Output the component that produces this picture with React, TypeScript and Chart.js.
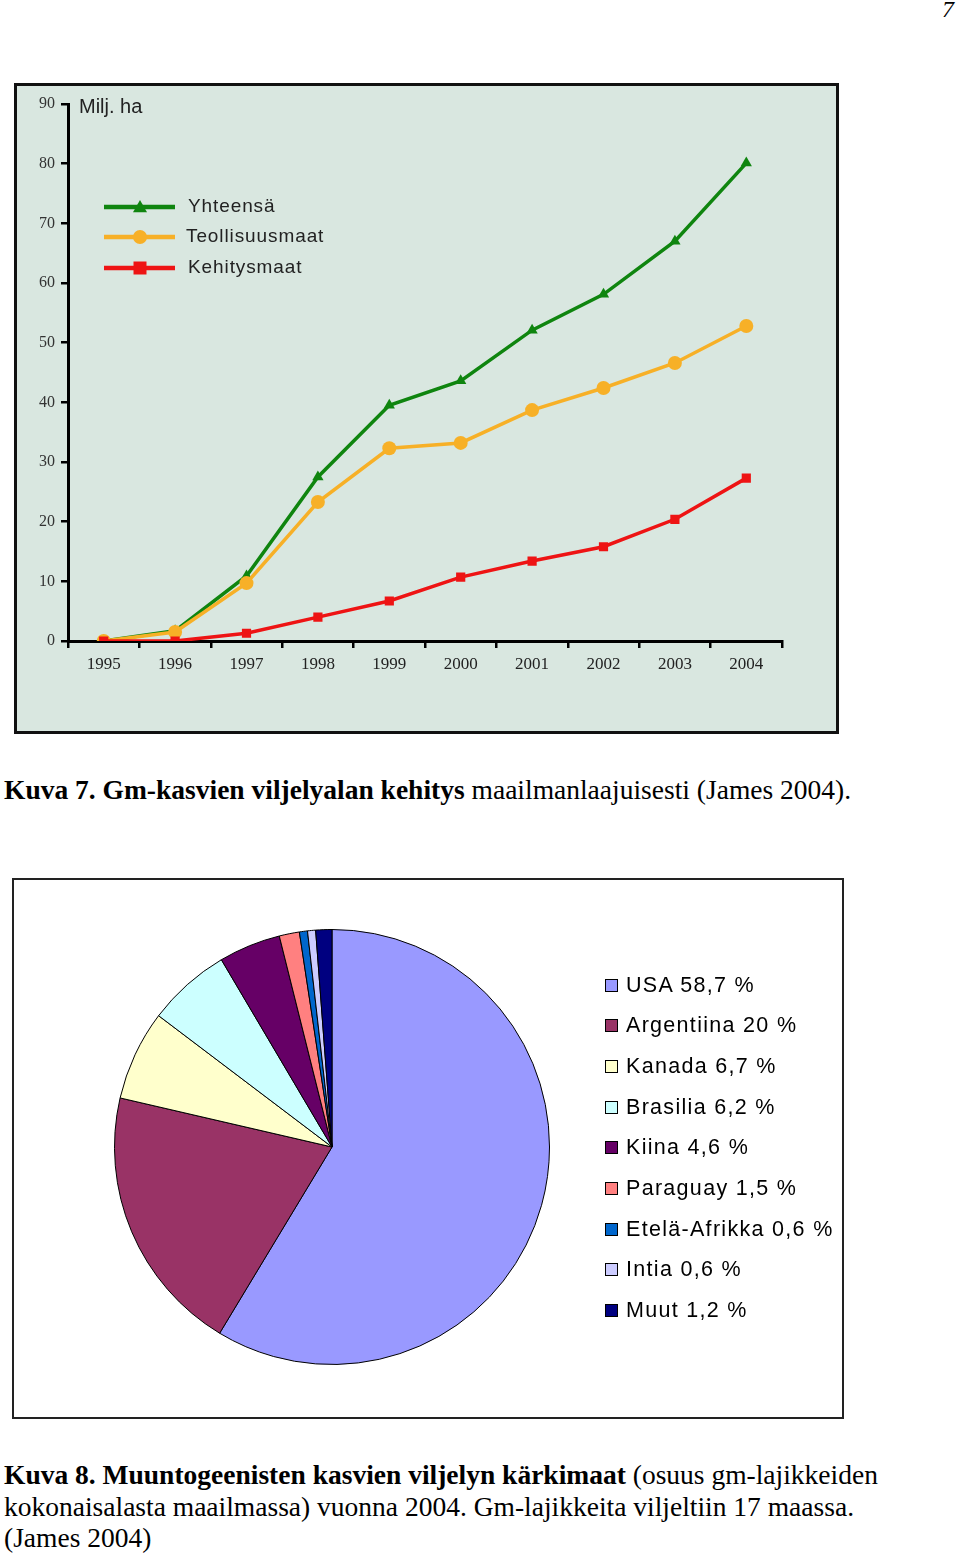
import React, { useEffect, useRef } from "react";
import { Chart, registerables } from "chart.js";

Chart.register(...registerables);

// ---------- Line chart data (Kuva 7) ----------
const years = ["1995", "1996", "1997", "1998", "1999", "2000", "2001", "2002", "2003", "2004"];
const totalArea = [0, 1.7, 10.9, 27.5, 39.5, 43.6, 52.1, 58.1, 67.0, 80.1];
const industrialArea = [0, 1.5, 9.7, 23.3, 32.3, 33.2, 38.7, 42.4, 46.6, 52.8];
const developingArea = [0, 0, 1.3, 4.0, 6.7, 10.7, 13.4, 15.8, 20.4, 27.3];
const seriesNames = ["Yhteensä", "Teollisuusmaat", "Kehitysmaat"];
const seriesColors = ["#0f850f", "#f7b027", "#ee1414"];
const seriesMarkers = ["triangle", "circle", "rect"];
const yUnitLabel = "Milj. ha";
const yMin = 0;
const yMax = 90;
const yStep = 10;

// ---------- Pie chart data (Kuva 8) ----------
const countries = ["USA", "Argentiina", "Kanada", "Brasilia", "Kiina", "Paraguay", "Etelä-Afrikka", "Intia", "Muut"];
const shares = [58.7, 20, 6.7, 6.2, 4.6, 1.5, 0.6, 0.6, 1.2];
const shareLabels = ["58,7", "20", "6,7", "6,2", "4,6", "1,5", "0,6", "0,6", "1,2"];
const pieColors = ["#9999ff", "#993366", "#ffffcc", "#ccffff", "#660066", "#ff8080", "#0066cc", "#ccccff", "#000080"];

const serif = "'Liberation Serif', 'Times New Roman', serif";
const sans = "'Liberation Sans', Arial, sans-serif";

function drawMarker(ctx: CanvasRenderingContext2D, kind: string, x: number, y: number, r: number, color: string) {
  ctx.fillStyle = color;
  ctx.beginPath();
  if (kind === "triangle") {
    ctx.moveTo(x, y - r);
    ctx.lineTo(x + r, y + r * 0.75);
    ctx.lineTo(x - r, y + r * 0.75);
    ctx.closePath();
  } else if (kind === "circle") {
    ctx.arc(x, y, r, 0, Math.PI * 2);
  } else {
    ctx.rect(x - r, y - r, r * 2, r * 2);
  }
  ctx.fill();
}

const lineLegendPlugin = {
  id: "lineLegend",
  afterDraw(chart: any) {
    const ctx = chart.ctx as CanvasRenderingContext2D;
    ctx.save();
    ctx.fillStyle = "#222";
    ctx.font = `20px ${sans}`;
    ctx.textBaseline = "middle";
    ctx.textAlign = "left";
    ctx.fillText(yUnitLabel, 62, 21);
    const rows = [121, 151, 182];
    const radii = [7, 7, 6.5];
    seriesNames.forEach((name, i) => {
      const y = rows[i];
      ctx.strokeStyle = seriesColors[i];
      ctx.lineWidth = 4.5;
      ctx.beginPath();
      ctx.moveTo(87, y);
      ctx.lineTo(158, y);
      ctx.stroke();
      drawMarker(ctx, seriesMarkers[i], 123, y, radii[i], seriesColors[i]);
      ctx.fillStyle = "#222";
      (ctx as any).letterSpacing = "0.9px";
      ctx.font = `19px ${sans}`;
      ctx.fillText(name, i === 1 ? 169 : 171, y);
      (ctx as any).letterSpacing = "0px";
    });
    ctx.restore();
  },
};

function LineChart() {
  const ref = useRef<HTMLCanvasElement | null>(null);
  useEffect(() => {
    if (!ref.current) return;
    const radii = [6.5, 7, 6.5];
    const datasets = [totalArea, industrialArea, developingArea].map((data, i) => ({
      label: seriesNames[i],
      data,
      borderColor: seriesColors[i],
      backgroundColor: seriesColors[i],
      borderWidth: 3.5,
      pointStyle: seriesMarkers[i],
      pointRadius: radii[i],
      pointBorderWidth: 0,
      order: 2 - i,
      tension: 0,
    }));
    const chart = new Chart(ref.current, {
      type: "line",
      data: { labels: years, datasets },
      plugins: [lineLegendPlugin],
      options: {
        animation: false,
        responsive: false,
        maintainAspectRatio: false,
        layout: { padding: { left: 0, top: 18, right: 54, bottom: 0 } },
        plugins: { legend: { display: false }, tooltip: { enabled: false } },
        scales: {
          x: {
            type: "category",
            offset: true,
            grid: {
              offset: true,
              display: true,
              drawOnChartArea: false,
              drawTicks: true,
              tickLength: 7,
              color: "#000",
              lineWidth: 2.5,
            },
            border: { display: true, color: "#000", width: 3 },
            ticks: { color: "#222", font: { family: serif, size: 17 }, padding: 6, maxRotation: 0 },
            afterFit: (scale: any) => {
              scale.height = 90;
            },
          },
          y: {
            min: yMin,
            max: yMax,
            grid: {
              display: true,
              drawOnChartArea: false,
              drawTicks: true,
              tickLength: 7,
              color: "#000",
              lineWidth: 2.5,
            },
            border: { display: true, color: "#000", width: 3 },
            ticks: { stepSize: yStep, color: "#333", font: { family: serif, size: 16 }, padding: 6 },
            afterFit: (scale: any) => {
              scale.width = 51;
            },
          },
        },
      },
    });
    return () => chart.destroy();
  }, []);
  return <canvas ref={ref} width={819} height={645} style={{ display: "block", width: 819, height: 645 }} />;
}

function PieChart() {
  const ref = useRef<HTMLCanvasElement | null>(null);
  useEffect(() => {
    if (!ref.current) return;
    const chart = new Chart(ref.current, {
      type: "pie",
      data: {
        labels: countries,
        datasets: [
          {
            data: shares,
            backgroundColor: pieColors,
            borderColor: "#000",
            borderWidth: 1,
          },
        ],
      },
      options: {
        animation: false,
        responsive: false,
        maintainAspectRatio: false,
        layout: { padding: { left: 99, right: 293, top: 49, bottom: 52 } },
        plugins: { legend: { display: false }, tooltip: { enabled: false } },
      },
    });
    return () => chart.destroy();
  }, []);
  return <canvas ref={ref} width={830} height={537} style={{ display: "block", width: 830, height: 537 }} />;
}

export default function App() {
  const captionStyle: React.CSSProperties = {
    position: "absolute",
    left: 4,
    fontFamily: serif,
    fontSize: 27.5,
    lineHeight: "31.5px",
    color: "#000",
    whiteSpace: "nowrap",
  };
  return (
    <div style={{ position: "absolute", left: 0, top: 0, width: 960, height: 1554, background: "#fff", overflow: "hidden" }}>
      <div style={{ position: "absolute", left: 942, top: -4, fontFamily: serif, fontSize: 24, fontStyle: "italic" }}>7</div>

      <div
        style={{
          position: "absolute",
          left: 14,
          top: 83,
          width: 825,
          height: 651,
          boxSizing: "border-box",
          border: "3px solid #111",
          background: "#d9e7e0",
        }}
      >
        <LineChart />
      </div>

      <div style={{ ...captionStyle, top: 774 }}>
        <b>Kuva 7. Gm-kasvien viljelyalan kehitys</b> maailmanlaajuisesti (James 2004).
      </div>

      <div
        style={{
          position: "absolute",
          left: 12,
          top: 878,
          width: 832,
          height: 541,
          boxSizing: "border-box",
          border: "2px solid #222",
          background: "#fff",
        }}
      >
        <PieChart />
        {countries.map((c, i) => (
          <div
            key={c}
            style={{
              position: "absolute",
              left: 591,
              top: 91 + i * 40.7,
              height: 28,
              display: "flex",
              alignItems: "center",
              fontFamily: sans,
              fontSize: 21.5,
              letterSpacing: "1.3px",
              color: "#000",
              whiteSpace: "nowrap",
            }}
          >
            <span
              style={{
                display: "inline-block",
                width: 13,
                height: 13,
                boxSizing: "border-box",
                border: "1px solid #000",
                background: pieColors[i],
                marginRight: 8,
              }}
            />
            <span>
              {c} {shareLabels[i]} %
            </span>
          </div>
        ))}
      </div>

      <div style={{ ...captionStyle, top: 1459 }}>
        <b>Kuva 8. Muuntogeenisten kasvien viljelyn kärkimaat</b> (osuus gm-lajikkeiden
        <br />
        kokonaisalasta maailmassa) vuonna 2004. Gm-lajikkeita viljeltiin 17 maassa.
        <br />
        (James 2004)
      </div>
    </div>
  );
}
